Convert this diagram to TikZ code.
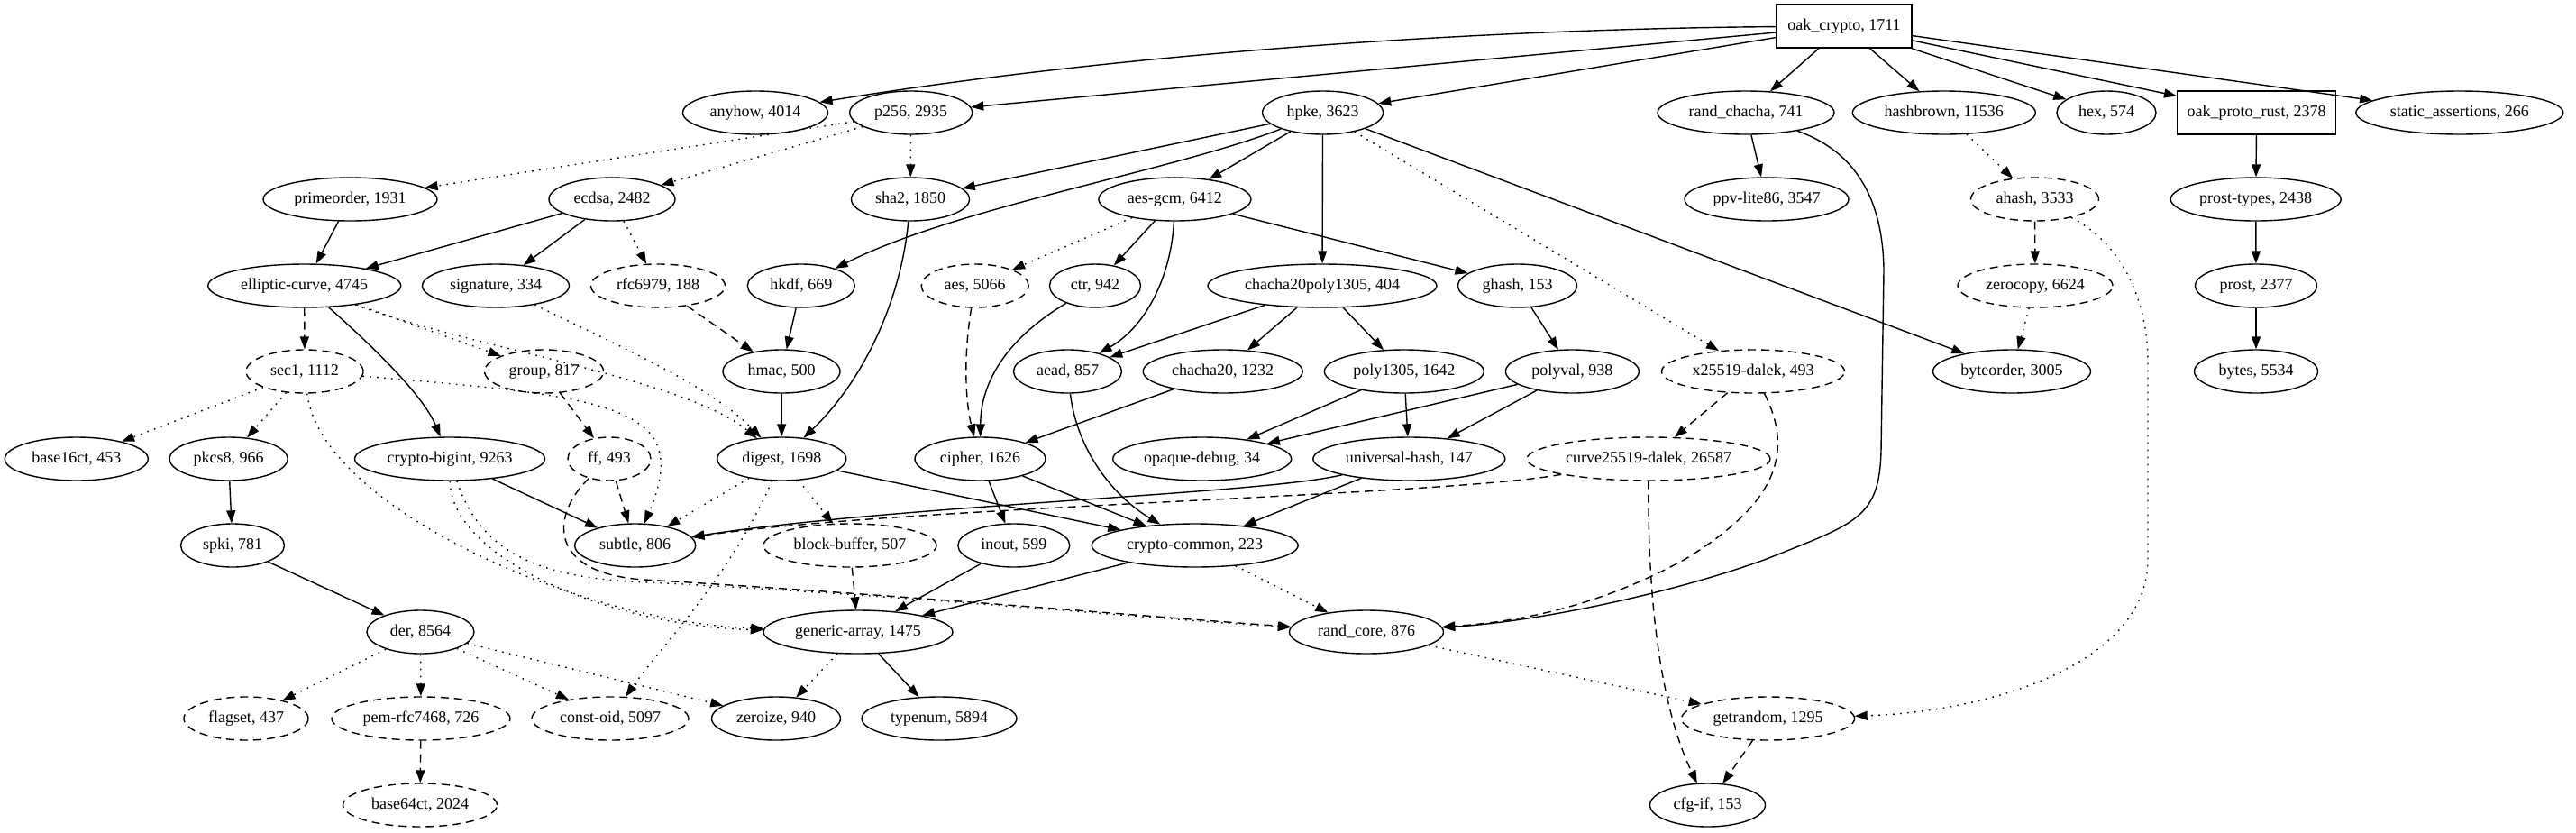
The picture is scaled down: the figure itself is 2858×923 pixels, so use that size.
\documentclass[tikz,border=0pt]{standalone}
\usepackage{fontspec}
\setmainfont{Liberation Serif}
\usetikzlibrary{arrows.meta,shapes.geometric}

\begin{document}
\begin{tikzpicture}[x=0.5pt,y=-0.5pt,crate/.style={draw,ellipse,line width=0.7pt,minimum height=24pt,inner sep=0pt,font=\fontsize{9}{10}\selectfont},optcrate/.style={crate,dash pattern=on 4.5pt off 3pt},root/.style={draw,rectangle,line width=0.7pt,minimum height=24pt,inner sep=0pt,font=\fontsize{9}{10}\selectfont},arr/.style={-{Triangle[length=7pt,width=5pt]},line width=0.7pt},optarr/.style={arr,dash pattern=on 4.5pt off 3pt},devarr/.style={arr,dash pattern=on 0.8pt off 3.2pt}]
    \useasboundingbox (0,0) rectangle (2858,923);
    \node[root,minimum width=75pt] (oak) at (2046,29) {oak\_crypto, 1711};
    \node[crate,minimum width=80.5pt] (anyhow) at (838,125) {anyhow, 4014};
    \node[crate,minimum width=68pt] (p256) at (1010.7,125) {p256, 2935};
    \node[crate,minimum width=67pt] (hpke) at (1467.6,125) {hpke, 3623};
    \node[crate,minimum width=98pt] (rchacha) at (1937,125) {rand\_chacha, 741};
    \node[crate,minimum width=101.5pt] (hbrown) at (2156.8,125) {hashbrown, 11536};
    \node[crate,minimum width=55pt] (hex) at (2337,125) {hex, 574};
    \node[root,minimum width=88pt] (proto) at (2503.7,125) {oak\_proto\_rust, 2378};
    \node[crate,minimum width=115pt] (sassert) at (2728.8,125) {static\_assertions, 266};
    \node[crate,minimum width=96.5pt] (prime) at (388.5,221) {primeorder, 1931};
    \node[crate,minimum width=70pt] (ecdsa) at (679,221) {ecdsa, 2482};
    \node[crate,minimum width=65.5pt] (sha) at (1010,221) {sha2, 1850};
    \node[crate,minimum width=84.5pt] (aesgcm) at (1303.4,221) {aes-gcm, 6412};
    \node[crate,minimum width=91pt] (ppv) at (1960,221) {ppv-lite86, 3547};
    \node[optcrate,minimum width=71pt] (ahash) at (2257.5,221) {ahash, 3533};
    \node[crate,minimum width=94.5pt] (ptypes) at (2502.7,221) {prost-types, 2438};
    \node[crate,minimum width=107pt] (ec) at (337.7,317) {elliptic-curve, 4745};
    \node[crate,minimum width=81.5pt] (sig) at (550,317) {signature, 334};
    \node[optcrate,minimum width=74.5pt] (rfc) at (730,317) {rfc6979, 188};
    \node[crate,minimum width=59.5pt] (hkdf) at (888.8,317) {hkdf, 669};
    \node[optcrate,minimum width=59.5pt] (aes) at (1081.7,317) {aes, 5066};
    \node[crate,minimum width=50.5pt] (ctr) at (1215,317) {ctr, 942};
    \node[crate,minimum width=127pt] (ccp) at (1467,317) {chacha20poly1305, 404};
    \node[crate,minimum width=66pt] (ghash) at (1683.5,317) {ghash, 153};
    \node[optcrate,minimum width=86pt] (zcopy) at (2258,317) {zerocopy, 6624};
    \node[crate,minimum width=67.5pt] (prost) at (2503,317) {prost, 2377};
    \node[optcrate,minimum width=65pt] (sec) at (338,412) {sec1, 1112};
    \node[optcrate,minimum width=66pt] (group) at (603.6,412) {group, 817};
    \node[crate,minimum width=65pt] (hmac) at (867,412) {hmac, 500};
    \node[crate,minimum width=60pt] (aead) at (1184.5,412) {aead, 857};
    \node[crate,minimum width=88.5pt] (cc20) at (1356.7,412) {chacha20, 1232};
    \node[crate,minimum width=88.5pt] (p1305) at (1557.8,412) {poly1305, 1642};
    \node[crate,minimum width=74pt] (pval) at (1744.4,412) {polyval, 938};
    \node[optcrate,minimum width=101.5pt] (x255) at (1945,412) {x25519-dalek, 493};
    \node[crate,minimum width=87.5pt] (border) at (2232,412) {byteorder, 3005};
    \node[crate,minimum width=68.5pt] (bytes) at (2503,412) {bytes, 5534};
    \node[crate,minimum width=79.5pt] (b16) at (84.8,509) {base16ct, 453};
    \node[crate,minimum width=65.5pt] (pkcs) at (253.6,509) {pkcs8, 966};
    \node[crate,minimum width=105.5pt] (bigint) at (499,509) {crypto-bigint, 9263};
    \node[optcrate,minimum width=46pt] (ff) at (676,509) {ff, 493};
    \node[crate,minimum width=71.5pt] (digest) at (867.3,509) {digest, 1698};
    \node[crate,minimum width=72.5pt] (cipher) at (1087.5,509) {cipher, 1626};
    \node[crate,minimum width=99pt] (opaque) at (1333.7,509) {opaque-debug, 34};
    \node[crate,minimum width=106.5pt] (uhash) at (1563.3,509) {universal-hash, 147};
    \node[optcrate,minimum width=135pt] (c255) at (1829,509) {curve25519-dalek, 26587};
    \node[crate,minimum width=57.5pt] (spki) at (258,605) {spki, 781};
    \node[crate,minimum width=67pt] (subtle) at (704.7,605) {subtle, 806};
    \node[optcrate,minimum width=96pt] (bbuf) at (943,605) {block-buffer, 507};
    \node[crate,minimum width=62pt] (inout) at (1124.8,605) {inout, 599};
    \node[crate,minimum width=114.5pt] (ccommon) at (1325.7,605) {crypto-common, 223};
    \node[crate,minimum width=59.5pt] (der) at (466.5,701) {der, 8564};
    \node[crate,minimum width=105pt] (garray) at (952,701) {generic-array, 1475};
    \node[crate,minimum width=85.5pt] (rcore) at (1516,701) {rand\_core, 876};
    \node[optcrate,minimum width=69pt] (flagset) at (273,797) {flagset, 437};
    \node[optcrate,minimum width=99pt] (pem) at (467,797) {pem-rfc7468, 726};
    \node[optcrate,minimum width=87pt] (coid) at (677,797) {const-oid, 5097};
    \node[crate,minimum width=71.5pt] (zeroize) at (861,797) {zeroize, 940};
    \node[crate,minimum width=86pt] (typenum) at (1042,797) {typenum, 5894};
    \node[optcrate,minimum width=96pt] (getrand) at (1961.6,797) {getrandom, 1295};
    \node[optcrate,minimum width=85.5pt] (b64) at (466,893) {base64ct, 2024};
    \node[crate,minimum width=64pt] (cfgif) at (1894.5,893) {cfg-if, 153};
    \draw[arr] (oak) .. controls (1650,32) and (1250,58) .. (anyhow);
    \draw[arr] (oak)--(p256);
    \draw[arr] (oak)--(hpke);
    \draw[arr] (oak)--(rchacha);
    \draw[arr] (oak)--(hbrown);
    \draw[arr] (oak)--(hex);
    \draw[arr] (oak)--(proto);
    \draw[arr] (oak)--(sassert);
    \draw[devarr] (p256)--(prime);
    \draw[devarr] (p256)--(ecdsa);
    \draw[devarr] (p256)--(sha);
    \draw[arr] (hpke)--(sha);
    \draw[arr] (hpke) .. controls (1300,190) and (1060,230) .. (hkdf);
    \draw[arr] (hpke)--(aesgcm);
    \draw[arr] (hpke)--(ccp);
    \draw[devarr] (hpke)--(x255);
    \draw[arr] (hpke)--(border);
    \draw[arr] (rchacha)--(ppv);
    \draw[arr] (rchacha) .. controls (2050,165) and (2089,210) .. (2090,300)--(2087,500) .. controls (2085,575) and (2060,580) .. (1960,620) .. controls (1850,660) and (1700,690) .. (rcore);
    \draw[devarr] (hbrown)--(ahash);
    \draw[optarr] (ahash)--(zcopy);
    \draw[devarr] (ahash) .. controls (2345,265) and (2382,320) .. (2383,400)--(2383,620) .. controls (2383,740) and (2200,790) .. (getrand);
    \draw[devarr] (zcopy)--(border);
    \draw[arr] (proto)--(ptypes);
    \draw[arr] (ptypes)--(prost);
    \draw[arr] (prost)--(bytes);
    \draw[arr] (prime)--(ec);
    \draw[arr] (ecdsa)--(ec);
    \draw[arr] (ecdsa)--(sig);
    \draw[devarr] (ecdsa)--(rfc);
    \draw[optarr] (rfc)--(hmac);
    \draw[arr] (hkdf)--(hmac);
    \draw[arr] (hmac)--(digest);
    \draw[arr] (sha) .. controls (1000,330) and (960,420) .. (digest);
    \draw[devarr] (sig) .. controls (700,390) and (790,430) .. (digest);
    \draw[devarr] (ec) .. controls (520,385) and (760,420) .. (digest);
    \draw[devarr] (ec)--(group);
    \draw[optarr] (ec)--(sec);
    \draw[arr] (ec) .. controls (420,390) and (470,440) .. (bigint);
    \draw[devarr] (sec)--(b16);
    \draw[devarr] (sec)--(pkcs);
    \draw[devarr] (sec) .. controls (680,440) and (770,450) .. (subtle);
    \draw[devarr] (sec) .. controls (355,560) and (640,690) .. (garray);
    \draw[optarr] (group)--(ff);
    \draw[arr] (bigint)--(subtle);
    \draw[devarr] (bigint) .. controls (500,620) and (680,695) .. (garray);
    \draw[devarr] (bigint) .. controls (535,620) and (610,642) .. (720,646) .. controls (1000,660) and (1300,688) .. (rcore);
    \draw[optarr] (ff)--(subtle);
    \draw[optarr] (ff) .. controls (612,570) and (605,636) .. (715,643) .. controls (1000,660) and (1300,686) .. (rcore);
    \draw[devarr] (digest)--(subtle);
    \draw[devarr] (digest)--(bbuf);
    \draw[devarr] (digest) .. controls (810,640) and (735,715) .. (coid);
    \draw[arr] (digest)--(ccommon);
    \draw[devarr] (aesgcm)--(aes);
    \draw[arr] (aesgcm)--(ctr);
    \draw[arr] (aesgcm) .. controls (1300,300) and (1275,360) .. (aead);
    \draw[arr] (aesgcm)--(ghash);
    \draw[optarr] (aes) .. controls (1068,400) and (1072,450) .. (cipher);
    \draw[arr] (ctr) .. controls (1110,380) and (1088,430) .. (cipher);
    \draw[arr] (ccp)--(aead);
    \draw[arr] (ccp)--(cc20);
    \draw[arr] (ccp)--(p1305);
    \draw[arr] (cc20)--(cipher);
    \draw[arr] (ghash)--(pval);
    \draw[arr] (p1305)--(opaque);
    \draw[arr] (p1305)--(uhash);
    \draw[arr] (pval)--(opaque);
    \draw[arr] (pval)--(uhash);
    \draw[arr] (aead) .. controls (1195,500) and (1235,550) .. (ccommon);
    \draw[arr] (cipher)--(ccommon);
    \draw[arr] (cipher)--(inout);
    \draw[arr] (uhash)--(ccommon);
    \draw[arr] (uhash) .. controls (1400,548) and (1000,560) .. (subtle);
    \draw[optarr] (c255) .. controls (1600,550) and (1000,562) .. (subtle);
    \draw[optarr] (c255) .. controls (1828,680) and (1845,790) .. (cfgif);
    \draw[optarr] (x255)--(c255);
    \draw[optarr] (x255) .. controls (1995,510) and (1960,565) .. (1870,620) .. controls (1770,675) and (1680,690) .. (rcore);
    \draw[arr] (pkcs)--(spki);
    \draw[arr] (spki)--(der);
    \draw[devarr] (der)--(flagset);
    \draw[devarr] (der)--(pem);
    \draw[devarr] (der)--(coid);
    \draw[devarr] (der)--(zeroize);
    \draw[optarr] (pem)--(b64);
    \draw[optarr] (bbuf)--(garray);
    \draw[arr] (inout)--(garray);
    \draw[arr] (ccommon)--(garray);
    \draw[devarr] (ccommon)--(rcore);
    \draw[devarr] (garray)--(zeroize);
    \draw[arr] (garray)--(typenum);
    \draw[devarr] (rcore)--(getrand);
    \draw[optarr] (getrand)--(cfgif);
  \end{tikzpicture}
\end{document}
